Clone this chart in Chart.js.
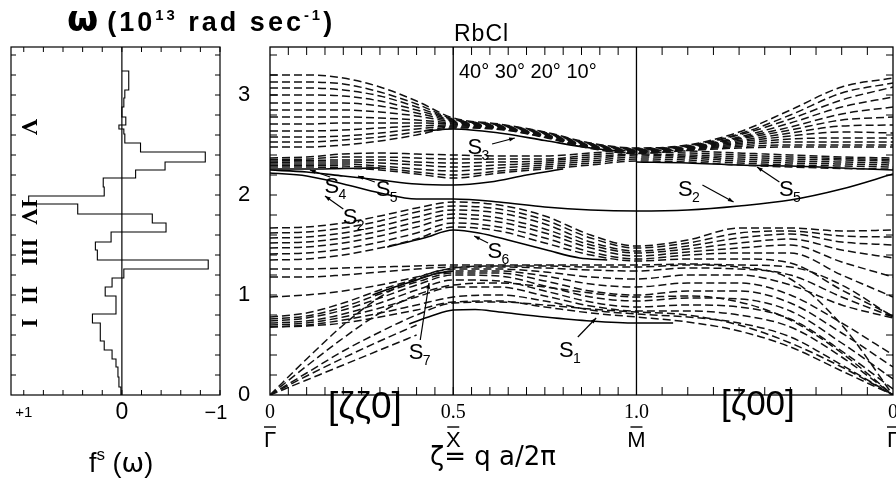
<!DOCTYPE html>
<html>
<head>
<meta charset="utf-8">
<script src="https://cdn.jsdelivr.net/npm/chart.js@4.4.0/dist/chart.umd.min.js"></script>
<style>
  body { margin: 0; background: #fff; width: 896px; height: 483px; position: relative; overflow: hidden;
         font-family: "Liberation Sans", Arial, sans-serif; color: #000; }
  canvas { position: absolute; top: 0; }
  #cl { left: 0; }
  #cr { left: 200px; }
  .t { position: absolute; white-space: nowrap; line-height: 1; }
  .t sup { font-size: 0.55em; vertical-align: 0.75em; }
</style>
</head>
<body>
<canvas id="cl" width="240" height="483"></canvas>
<canvas id="cr" width="696" height="483"></canvas>

<div class="t" style="left:67px;top:1px;font-weight:bold;font-size:27px;letter-spacing:3px"><span style="font-family:'DejaVu Sans';font-size:36px;letter-spacing:9px">ω</span>(10<sup>13</sup> rad sec<sup>-1</sup>)</div>
<div class="t" style="left:89px;top:446px;font-size:27px">f<sup style="font-size:17px;vertical-align:12px">s</sup> (<span style="font-family:'DejaVu Sans'">ω</span>)</div>
<div class="t" style="left:454px;top:22px;font-size:23px;letter-spacing:1px">RbCl</div>
<div class="t" style="left:459px;top:61px;font-size:20px">40° 30° 20° 10°</div>
<div class="t" style="left:328px;top:387px;font-size:37px">[ζζ0]</div>
<div class="t" style="left:721px;top:385px;font-size:35px">[ζ00]</div>
<div class="t" style="left:430px;top:443px;font-size:26px;font-family:'DejaVu Sans'">ζ= q a/2π</div>

<script>
// ========== DADOS: HISTOGRAMA f^s(ω) ==========
const FS_EDGES = [0, 0.08, 0.18, 0.28, 0.36, 0.45, 0.54, 0.63, 0.72, 0.81, 0.90, 0.99, 1.08, 1.17, 1.26,
                  1.35, 1.45, 1.53, 1.63, 1.72, 1.81, 1.91, 1.99, 2.08, 2.17, 2.25, 2.33, 2.43, 2.52,
                  2.61, 2.66, 2.70, 2.78, 2.88, 2.97, 3.05, 3.24];
const FS_VALUES = [0.01, 0.03, 0.04, 0.06, 0.10, 0.18, 0.22, 0.22, 0.30, 0.06, 0.06, 0.17, 0.10, -0.02,
                   -0.88, 0.25, 0.27, 0.11, -0.45, -0.31, 0.45, 0.95, 0.18, 0.19, -0.14, -0.44, -0.85,
                   -0.19, -0.03, -0.02, 0.03, -0.04, 0.00, -0.02, -0.03, -0.07];
const ROMAN = ['I', 'II', 'III', 'IV', 'V'];
const ROMAN_W = [0.72, 1.0, 1.43, 1.83, 2.68];

// ========== DADOS: DISPERSÃO ==========
// Γ̄ (0) → X̄ (0.5) → M̄ (1.0) → Γ̄ (1.7)
const X_NODES = [0, 0.1, 0.2, 0.3, 0.4, 0.5, 0.625, 0.75, 0.875, 1.0, 1.14, 1.28, 1.42, 1.56, 1.7];

const TOP_BAND = [
  [3.20, 3.20, 3.17, 3.08, 2.94, 2.77, 2.71, 2.63, 2.52, 2.47, 2.50, 2.63, 2.85, 3.08, 3.17],
  [3.13, 3.13, 3.11, 3.03, 2.91, 2.76, 2.705, 2.625, 2.515, 2.465, 2.495, 2.61, 2.80, 3.02, 3.12],
  [3.07, 3.07, 3.05, 2.99, 2.88, 2.755, 2.70, 2.62, 2.51, 2.46, 2.49, 2.60, 2.76, 2.95, 3.08],
  [3.00, 3.00, 2.99, 2.94, 2.85, 2.75, 2.695, 2.615, 2.505, 2.455, 2.485, 2.58, 2.72, 2.88, 2.98],
  [2.92, 2.92, 2.92, 2.89, 2.82, 2.74, 2.69, 2.61, 2.50, 2.45, 2.48, 2.57, 2.68, 2.81, 2.88],
  [2.85, 2.85, 2.85, 2.83, 2.79, 2.73, 2.685, 2.605, 2.495, 2.445, 2.475, 2.56, 2.65, 2.75, 2.78],
  [2.78, 2.78, 2.78, 2.77, 2.75, 2.72, 2.68, 2.60, 2.49, 2.44, 2.47, 2.545, 2.62, 2.69, 2.70],
  [2.71, 2.71, 2.72, 2.72, 2.72, 2.71, 2.675, 2.595, 2.485, 2.435, 2.465, 2.53, 2.59, 2.63, 2.62],
  [2.64, 2.64, 2.65, 2.67, 2.69, 2.70, 2.67, 2.59, 2.48, 2.43, 2.46, 2.515, 2.56, 2.57, 2.57],
  [2.58, 2.58, 2.59, 2.62, 2.66, 2.69, 2.665, 2.585, 2.475, 2.425, 2.455, 2.50, 2.53, 2.53, 2.53],
  [2.53, 2.53, 2.55, 2.58, 2.63, 2.68, 2.66, 2.58, 2.47, 2.42, 2.45, 2.485, 2.50, 2.50, 2.50],
  [2.48, 2.48, 2.50, 2.54, 2.60, 2.67, 2.655, 2.575, 2.465, 2.415, 2.445, 2.47, 2.48, 2.48, 2.48]
];
const TO_BAND = [
  [2.37, 2.38, 2.41, 2.42, 2.41, 2.40, 2.39, 2.39, 2.42, 2.45, 2.44, 2.42, 2.40, 2.38, 2.37],
  [2.355, 2.36, 2.38, 2.38, 2.37, 2.36, 2.36, 2.36, 2.40, 2.43, 2.42, 2.40, 2.38, 2.365, 2.355],
  [2.34, 2.345, 2.35, 2.35, 2.33, 2.32, 2.33, 2.34, 2.38, 2.41, 2.40, 2.38, 2.36, 2.35, 2.34],
  [2.325, 2.33, 2.33, 2.32, 2.30, 2.28, 2.30, 2.32, 2.36, 2.40, 2.385, 2.36, 2.34, 2.33, 2.32],
  [2.31, 2.31, 2.31, 2.29, 2.26, 2.24, 2.27, 2.30, 2.34, 2.38, 2.37, 2.34, 2.32, 2.31, 2.30],
  [2.295, 2.295, 2.29, 2.27, 2.23, 2.20, 2.24, 2.28, 2.32, 2.36, 2.35, 2.32, 2.30, 2.29, 2.28],
  [2.28, 2.28, 2.27, 2.25, 2.21, 2.17, 2.22, 2.26, 2.30, 2.34, 2.33, 2.30, 2.28, 2.265, 2.26]
];
const MID_BAND = [
  [1.67, 1.68, 1.72, 1.79, 1.87, 1.93, 1.90, 1.79, 1.60, 1.49, 1.55, 1.67, 1.67, 1.64, 1.65],
  [1.62, 1.63, 1.67, 1.74, 1.83, 1.89, 1.86, 1.75, 1.57, 1.47, 1.52, 1.62, 1.64, 1.59, 1.58],
  [1.57, 1.58, 1.62, 1.69, 1.78, 1.85, 1.82, 1.71, 1.53, 1.44, 1.49, 1.57, 1.61, 1.53, 1.50],
  [1.52, 1.53, 1.57, 1.64, 1.73, 1.81, 1.77, 1.66, 1.50, 1.42, 1.46, 1.52, 1.56, 1.45, 1.37],
  [1.47, 1.48, 1.52, 1.59, 1.68, 1.77, 1.73, 1.62, 1.47, 1.39, 1.43, 1.47, 1.50, 1.33, 1.18],
  [1.41, 1.42, 1.46, 1.53, 1.62, 1.72, 1.68, 1.57, 1.43, 1.36, 1.40, 1.42, 1.42, 1.20, 0.98],
  [1.35, 1.36, 1.40, 1.47, 1.56, 1.68, 1.64, 1.52, 1.40, 1.34, 1.36, 1.36, 1.32, 1.05, 0.79]
];
const LOW_BAND = [
  [1.26, 1.26, 1.27, 1.28, 1.29, 1.30, 1.30, 1.30, 1.30, 1.30, 1.31, 1.30, 1.28, 1.10, 0.78],
  [1.18, 1.18, 1.20, 1.23, 1.26, 1.28, 1.28, 1.27, 1.25, 1.24, 1.27, 1.26, 1.20, 0.98, 0.78],
  [0.98, 1.00, 1.04, 1.10, 1.18, 1.26, 1.26, 1.23, 1.18, 1.16, 1.20, 1.20, 1.10, 0.90, 0.77],
  [0.78, 0.82, 0.92, 1.05, 1.16, 1.24, 1.24, 1.19, 1.11, 1.08, 1.12, 1.12, 1.00, 0.72, 0.40],
  [0.76, 0.79, 0.88, 1.01, 1.13, 1.22, 1.22, 1.14, 1.04, 1.00, 1.04, 1.04, 0.92, 0.62, 0.28],
  [0.74, 0.77, 0.85, 0.97, 1.10, 1.20, 1.19, 1.09, 0.98, 0.94, 0.97, 0.96, 0.84, 0.52, 0.16],
  [0.72, 0.74, 0.81, 0.92, 1.05, 1.15, 1.14, 1.04, 0.93, 0.88, 0.90, 0.88, 0.76, 0.44, 0.06],
  [0.70, 0.72, 0.78, 0.87, 0.98, 1.08, 1.08, 0.99, 0.89, 0.84, 0.84, 0.80, 0.68, 0.38, 0],
  [0.68, 0.70, 0.75, 0.82, 0.90, 0.98, 1.00, 0.94, 0.85, 0.81, 0.78, 0.72, 0.58, 0.30, 0],
  [0.68, 0.69, 0.72, 0.78, 0.85, 0.93, 0.94, 0.88, 0.82, 0.78, 0.73, 0.64, 0.48, 0.24, 0]
];
const ACOUSTIC = [
  [0, 0.36, 0.70, 0.98, 1.17, 1.27, 1.29, 1.29, 1.28, 1.28, 1.30, 1.28, 1.16, 0.70, 0],
  [0, 0.29, 0.57, 0.82, 1.00, 1.10, 1.12, 1.08, 1.02, 0.98, 0.99, 0.93, 0.75, 0.42, 0],
  [0, 0.22, 0.44, 0.63, 0.80, 0.92, 0.93, 0.90, 0.86, 0.83, 0.80, 0.70, 0.52, 0.28, 0],
  [0, 0.19, 0.37, 0.54, 0.70, null, null, null, null, null, null, null, null, null, null],
  [0, 0.15, 0.30, 0.45, 0.60, null, null, null, null, null, null, null, null, null, null]
];

// modos de superfície (linhas cheias)
const S1_X = [0.38, 0.44, 0.5, 0.56, 0.625, 0.75, 0.875, 1.0, 1.1];
const S1_Y = [0.71, 0.79, 0.85, 0.855, 0.83, 0.78, 0.74, 0.72, 0.72];
const S2_Y = [2.22, 2.19, 2.11, 2.02, 1.96, 1.96, 1.93, 1.88, 1.85, 1.84, 1.85, 1.89, 1.95, 2.06, 2.21];
const S3_X = [0.42, 0.5, 0.625, 0.75, 0.875, 0.95];
const S3_Y = [2.64, 2.66, 2.62, 2.545, 2.47, 2.44];
const S4_X = [0, 0.1, 0.2, 0.3];
const S4_Y = [2.26, 2.26, 2.265, 2.27];
const S5_X = [0, 0.1, 0.2, 0.3, 0.4, 0.5, 0.6, 0.7, 0.8];
const S5_Y = [2.25, 2.23, 2.19, 2.15, 2.11, 2.10, 2.13, 2.20, 2.26];
const S5B_X = [1.0, 1.14, 1.28, 1.42, 1.56, 1.7];
const S5B_Y = [2.33, 2.32, 2.30, 2.29, 2.27, 2.25];
const S6_X = [0.32, 0.42, 0.5, 0.57, 0.66, 0.755, 0.845, 0.92];
const S6_Y = [1.48, 1.57, 1.65, 1.62, 1.54, 1.45, 1.37, 1.35];
const S7_X = [0.28, 0.34, 0.4, 0.45, 0.5];
const S7_Y = [1.0, 1.08, 1.15, 1.21, 1.24];

// rótulos S_n e setas (coordenadas em unidades dos eixos)
const S_NAMES = ['1', '2', '2', '3', '4', '5', '5', '6', '7'];
const S_LBL_X = [0.805, 0.215, 1.13, 0.555, 0.165, 0.305, 1.405, 0.61, 0.395];
const S_LBL_Y = [0.44, 1.77, 2.05, 2.47, 2.08, 2.05, 2.05, 1.43, 0.42];
const S_ARROWS = [
  [0.84, 0.58, 0.89, 0.77], [0.20, 1.86, 0.15, 1.99], [1.18, 2.10, 1.265, 1.93],
  [0.606, 2.51, 0.668, 2.57], [0.164, 2.18, 0.109, 2.25], [0.286, 2.13, 0.24, 2.19],
  [1.39, 2.13, 1.329, 2.28], [0.595, 1.52, 0.557, 1.59], [0.41, 0.55, 0.434, 1.12]
];

const X_LABEL_VALUES = [0, 0.5, 1.0, 1.7];
const X_LABELS = ['0', '0.5', '1.0', '0'];
const X_POINTS = ['Γ', 'X', 'M', 'Γ'];
const Y_LABELS = [0, 1, 2, 3];

// ========== HELPERS ==========
function pts(xs, ys) {
    const out = [];
    xs.forEach((x, i) => { if (ys[i] !== null) out.push({ x: x, y: ys[i] }); });
    return out;
}

function seg(ctx, x1, y1, x2, y2) {
    ctx.beginPath(); ctx.moveTo(x1, y1); ctx.lineTo(x2, y2); ctx.stroke();
}

// ========== PAINEL ESQUERDO ==========
const histPts = [{ x: 0, y: 0 }];
FS_VALUES.forEach((v, i) => {
    histPts.push({ x: v, y: FS_EDGES[i] });
    histPts.push({ x: v, y: FS_EDGES[i + 1] });
});
histPts.push({ x: 0, y: FS_EDGES[FS_EDGES.length - 1] });

const leftDecor = {
    id: 'leftDecor',
    afterDatasetsDraw(chart) {
        const { ctx, chartArea: a, scales: { x, y } } = chart;
        ctx.save();
        ctx.strokeStyle = '#000';
        ctx.lineWidth = 1.2;
        ctx.strokeRect(a.left, a.top, a.right - a.left, a.bottom - a.top);
        const x0 = x.getPixelForValue(0);
        seg(ctx, x0, a.top, x0, a.bottom);
        ctx.lineWidth = 1;
        for (let v = 0.2; v < 3.45; v += 0.2) {
            const py = y.getPixelForValue(v);
            seg(ctx, a.left, py, a.left + 5, py);
            seg(ctx, a.right, py, a.right - 5, py);
        }
        for (let v = -1; v <= 1.01; v += 0.2) {
            const px = x.getPixelForValue(v);
            seg(ctx, px, a.bottom, px, a.bottom - 5);
            seg(ctx, px, a.top, px, a.top + 5);
        }
        ctx.fillStyle = '#000';
        ctx.textAlign = 'center';
        ctx.textBaseline = 'middle';
        ctx.font = '23px "Liberation Sans"';
        ctx.fillText('0', x0, a.bottom + 18);
        ctx.font = '20px "Liberation Sans"';
        ctx.fillText('−1', x.getPixelForValue(-1) - 4, a.bottom + 18);
        ctx.font = '15px "Liberation Sans"';
        ctx.fillText('+1', x.getPixelForValue(1), a.bottom + 18);
        ctx.font = 'bold 23px "Liberation Serif"';
        ROMAN.forEach((r, i) => {
            ctx.save();
            ctx.translate(x.getPixelForValue(0.96), y.getPixelForValue(ROMAN_W[i]));
            ctx.rotate(Math.PI / 2);
            ctx.fillText(r, 0, 0);
            ctx.restore();
        });
        ctx.restore();
    }
};

new Chart(document.getElementById('cl'), {
    type: 'scatter',
    data: {
        datasets: [{
            data: histPts, showLine: true, borderColor: '#000', borderWidth: 1.1,
            pointRadius: 0, tension: 0
        }]
    },
    options: {
        responsive: false, animation: false,
        layout: { padding: { left: 11, right: 20, top: 47, bottom: 88 } },
        plugins: { legend: { display: false }, tooltip: { enabled: false } },
        scales: {
            x: { type: 'linear', reverse: true, min: -1, max: 1.13, display: false },
            y: { type: 'linear', min: 0, max: 3.48, display: false }
        }
    },
    plugins: [leftDecor]
});

// ========== PAINEL DIREITO ==========
const dashed = v => ({
    data: pts(X_NODES, v), showLine: true, borderColor: '#111', borderWidth: 1.5,
    borderDash: [8, 4], pointRadius: 0, cubicInterpolationMode: 'monotone'
});
const solid = (xs, ys) => ({
    data: pts(xs, ys), showLine: true, borderColor: '#000', borderWidth: 1.6,
    pointRadius: 0, cubicInterpolationMode: 'monotone'
});

const datasets = [...TOP_BAND, ...TO_BAND, ...MID_BAND, ...LOW_BAND, ...ACOUSTIC].map(dashed);
datasets.push(solid(S1_X, S1_Y), solid(X_NODES, S2_Y), solid(S3_X, S3_Y), solid(S4_X, S4_Y),
              solid(S5_X, S5_Y), solid(S5B_X, S5B_Y), solid(S6_X, S6_Y), solid(S7_X, S7_Y));

const rightDecor = {
    id: 'rightDecor',
    afterDatasetsDraw(chart) {
        const { ctx, chartArea: a, scales: { x, y } } = chart;
        ctx.save();
        ctx.strokeStyle = '#000';
        ctx.fillStyle = '#000';
        ctx.lineWidth = 1.3;
        ctx.strokeRect(a.left, a.top, a.right - a.left, a.bottom - a.top);
        [0.5, 1.0].forEach(v => {
            const px = x.getPixelForValue(v);
            seg(ctx, px, a.top, px, a.bottom);
        });
        ctx.lineWidth = 1;
        for (let v = 0.2; v < 3.45; v += 0.2) {
            const py = y.getPixelForValue(v);
            seg(ctx, a.left, py, a.left + 7, py);
            seg(ctx, a.right, py, a.right - 7, py);
        }
        const xt = [];
        for (let k = 1; k < 20; k++) xt.push(k * 0.05);
        for (let k = 1; k < 10; k++) xt.push(1 + k * 0.07);
        xt.forEach(v => {
            const px = x.getPixelForValue(v);
            seg(ctx, px, a.bottom, px, a.bottom - 8);
            seg(ctx, px, a.top, px, a.top + 8);
        });

        ctx.textAlign = 'center';
        ctx.textBaseline = 'middle';
        ctx.font = '22px "Liberation Sans"';
        Y_LABELS.forEach(v => ctx.fillText(String(v), a.left - 26, y.getPixelForValue(v)));
        X_LABEL_VALUES.forEach((v, i) => {
            const px = x.getPixelForValue(v);
            ctx.font = '20px "Liberation Serif"';
            ctx.fillText(X_LABELS[i], px, a.bottom + 18);
            ctx.font = '22px "Liberation Sans"';
            ctx.fillText(X_POINTS[i], px, a.bottom + 46);
            ctx.lineWidth = 1.4;
            seg(ctx, px - 6, a.bottom + 32, px + 6, a.bottom + 32);
        });

        // rótulos dos modos de superfície
        S_NAMES.forEach((n, i) => {
            const px = x.getPixelForValue(S_LBL_X[i]);
            const py = y.getPixelForValue(S_LBL_Y[i]);
            ctx.textAlign = 'left';
            ctx.font = '22px "Liberation Sans"';
            ctx.fillText('S', px - 6, py);
            ctx.font = '14px "Liberation Sans"';
            ctx.fillText(n, px + 8, py + 8);
            const [x1, y1, x2, y2] = S_ARROWS[i];
            const ax = x.getPixelForValue(x1), ay = y.getPixelForValue(y1);
            const bx = x.getPixelForValue(x2), by = y.getPixelForValue(y2);
            ctx.lineWidth = 1.2;
            seg(ctx, ax, ay, bx, by);
            const ang = Math.atan2(by - ay, bx - ax);
            ctx.beginPath();
            ctx.moveTo(bx, by);
            ctx.lineTo(bx - 6 * Math.cos(ang - 0.35), by - 6 * Math.sin(ang - 0.35));
            ctx.lineTo(bx - 6 * Math.cos(ang + 0.35), by - 6 * Math.sin(ang + 0.35));
            ctx.closePath();
            ctx.fill();
        });
        ctx.restore();
    }
};

new Chart(document.getElementById('cr'), {
    type: 'scatter',
    data: { datasets: datasets },
    options: {
        responsive: false, animation: false,
        layout: { padding: { left: 70, right: 3, top: 47, bottom: 88 } },
        plugins: { legend: { display: false }, tooltip: { enabled: false } },
        scales: {
            x: { type: 'linear', min: 0, max: 1.7, display: false },
            y: { type: 'linear', min: 0, max: 3.48, display: false }
        }
    },
    plugins: [rightDecor]
});
</script>
</body>
</html>
